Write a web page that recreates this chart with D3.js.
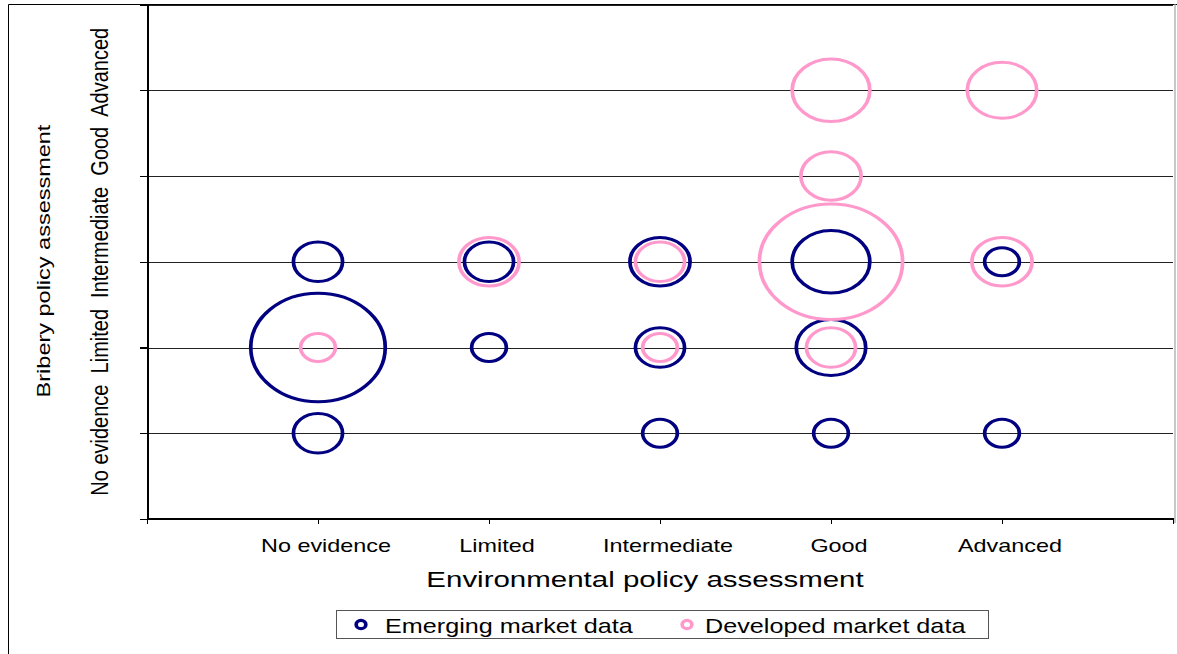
<!DOCTYPE html>
<html>
<head>
<meta charset="utf-8">
<script src="https://cdn.jsdelivr.net/npm/d3@7"></script>
<style>
  html, body { margin: 0; padding: 0; background: #fff; }
  svg { display: block; font-family: "Liberation Sans", Arial, sans-serif; }
</style>
</head>
<body>
<script>
// Category labels shared by both assessment axes (1 = No evidence ... 5 = Advanced)
const xLabels = ["No evidence", "Limited", "Intermediate", "Good", "Advanced"];
const yLabels = ["No evidence", "Limited", "Intermediate", "Good", "Advanced"];

// Bubble data: [environmental level, bribery level, number of companies]
const emergingBubbles = [
  [1, 1, 2], [1, 2, 15], [1, 3, 2],
  [2, 2, 1], [2, 3, 2],
  [3, 1, 1], [3, 2, 2], [3, 3, 3],
  [4, 1, 1], [4, 2, 4], [4, 3, 5],
  [5, 1, 1], [5, 3, 1]
];
const developedBubbles = [
  [1, 2, 1],
  [2, 3, 3],
  [3, 2, 1], [3, 3, 2],
  [4, 2, 2], [4, 3, 17], [4, 4, 3], [4, 5, 5],
  [5, 3, 3], [5, 5, 4]
];

const seriesNames = ["Emerging market data", "Developed market data"];
const seriesColors = ["#000080", "#FF99CC"];

const W = 1177, H = 654;
const STRETCH = 1.24; // bubbles are drawn wider than tall

const svg = d3.select("body").append("svg")
  .attr("width", W).attr("height", H);

svg.append("rect").attr("width", W).attr("height", H).attr("fill", "#fff");

// Chart frame (left and top edges)
svg.append("path")
  .attr("d", "M8.5," + H + " V4.5 H" + W)
  .attr("fill", "none").attr("stroke", "#000").attr("stroke-width", 1);

const x = d3.scaleLinear().domain([0, 6]).range([147, 1173]);
const y = d3.scaleLinear().domain([0, 6]).range([519, 4.5]);
const r = d3.scaleSqrt().domain([0, 1]).range([0, 14]);

// Horizontal gridlines
svg.append("g").selectAll("line")
  .data(d3.range(1, 7))
  .join("line")
  .attr("x1", x(0)).attr("x2", x(6))
  .attr("y1", d => Math.round(y(d)) + 0.5)
  .attr("y2", d => Math.round(y(d)) + 0.5)
  .attr("stroke", "#222").attr("stroke-width", 1)
  .attr("shape-rendering", "crispEdges");

// Plot area right edge
svg.append("line")
  .attr("x1", x(6) + 2).attr("x2", x(6) + 2)
  .attr("y1", y(6)).attr("y2", y(0) + 4)
  .attr("stroke", "#c8c8c8").attr("stroke-width", 2);

// Axes
const yAxis = svg.append("g")
  .attr("transform", "translate(" + (x(0) + 0.5) + ",0)")
  .call(d3.axisLeft(y).tickValues(d3.range(0, 7)).tickFormat("").tickSize(8).tickSizeOuter(0));
const xAxis = svg.append("g")
  .attr("transform", "translate(0," + (Math.round(y(0)) - 0.5) + ")")
  .call(d3.axisBottom(x).tickValues(d3.range(0, 7)).tickFormat("").tickSize(5).tickSizeOuter(0));
[yAxis, xAxis].forEach(a => {
  a.selectAll("path, line").attr("stroke", "#000").attr("stroke-width", 1.3)
    .attr("shape-rendering", "crispEdges");
});

// Bubbles
function drawSeries(data, color) {
  const sorted = data.slice().sort((a, b) => b[2] - a[2]);
  svg.append("g").selectAll("g")
    .data(sorted)
    .join("g")
    .attr("transform", d => "translate(" + x(d[0]) + "," + y(d[1]) + ") scale(" + STRETCH + ",1)")
    .append("circle")
    .attr("r", d => r(d[2]))
    .attr("fill", "none")
    .attr("stroke", color)
    .attr("stroke-width", 3);
}
drawSeries(emergingBubbles, seriesColors[0]);
drawSeries(developedBubbles, seriesColors[1]);

// X category labels
svg.append("g").selectAll("text")
  .data(xLabels)
  .join("text")
  .attr("transform", (d, i) => "translate(" + (x(i + 1) + 8) + ",552) scale(1.3,1)")
  .attr("text-anchor", "middle")
  .attr("font-size", 18)
  .attr("fill", "#000")
  .text(d => d);

// X axis title
svg.append("text")
  .attr("transform", "translate(645,587) scale(1.34,1)")
  .attr("text-anchor", "middle")
  .attr("font-size", 22)
  .attr("fill", "#000")
  .text("Environmental policy assessment");

// Y category labels, set as one rotated line along the axis
svg.append("text")
  .attr("transform", "translate(108," + ((y(0) + y(6)) / 2) + ") scale(" + STRETCH + ",1) rotate(-90)")
  .attr("text-anchor", "middle")
  .attr("font-size", 20)
  .attr("fill", "#000")
  .style("white-space", "pre")
  .text(yLabels.join("  "));

// Y axis title
svg.append("text")
  .attr("transform", "translate(49.5,261) scale(0.8,1) rotate(-90)")
  .attr("text-anchor", "middle")
  .attr("font-size", 23.5)
  .attr("fill", "#000")
  .text("Bribery policy assessment");

// Legend
const legend = svg.append("g");
legend.append("rect")
  .attr("x", 336.5).attr("y", 610.5).attr("width", 652).attr("height", 28)
  .attr("fill", "#fff").attr("stroke", "#555").attr("stroke-width", 1);
const legendX = [[361, 385], [687, 705]];
seriesNames.forEach((name, i) => {
  legend.append("g")
    .attr("transform", "translate(" + legendX[i][0] + ",624.5) scale(1.15,1)")
    .append("circle")
    .attr("r", 4.2)
    .attr("fill", "none").attr("stroke", seriesColors[i]).attr("stroke-width", 3.2);
  legend.append("text")
    .attr("transform", "translate(" + legendX[i][1] + ",633) scale(1.26,1)")
    .attr("font-size", 20)
    .attr("fill", "#000")
    .text(name);
});
</script>
</body>
</html>
